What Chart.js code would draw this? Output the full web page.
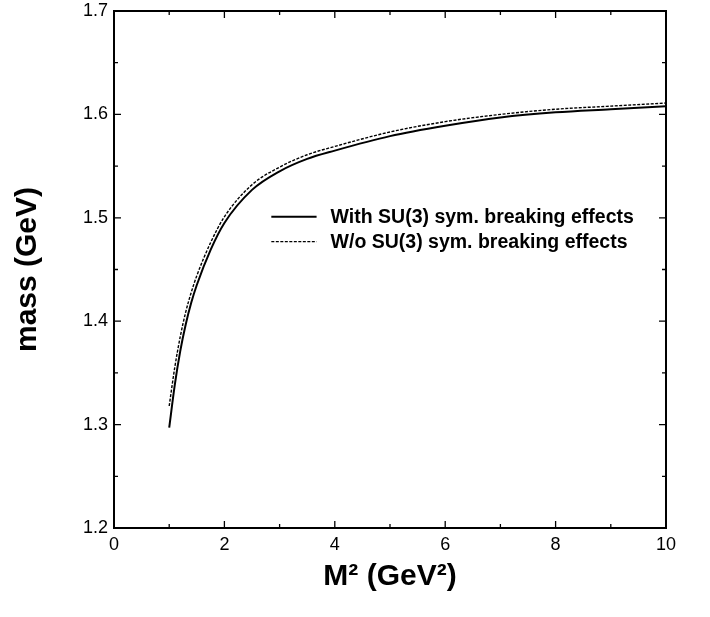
<!DOCTYPE html>
<html>
<head>
<meta charset="utf-8">
<script src="https://cdn.jsdelivr.net/npm/chart.js@4/dist/chart.umd.min.js"></script>
<style>
  html, body { margin: 0; padding: 0; background: #fff; }
  #wrap { width: 710px; height: 617px; position: relative; }
</style>
</head>
<body>
<div id="wrap"><canvas id="c" width="710" height="617"></canvas></div>
<script>
// Borel mass squared M^2 (GeV^2)
const borelM2 = [1, 1.1, 1.2, 1.3, 1.4, 1.5, 1.75, 2, 2.5, 3, 3.5, 4, 5, 6, 7, 8, 9, 10];
// mass (GeV) with SU(3) symmetry breaking effects (solid)
const massWith = [1.297, 1.338, 1.371, 1.397, 1.418, 1.435, 1.469, 1.495, 1.527, 1.545, 1.557, 1.565, 1.579, 1.589, 1.597, 1.602, 1.605, 1.608];
// mass (GeV) without SU(3) symmetry breaking effects (dashed)
const massWithout = [1.318, 1.355, 1.385, 1.409, 1.428, 1.444, 1.476, 1.501, 1.532, 1.549, 1.561, 1.569, 1.583, 1.593, 1.600, 1.605, 1.608, 1.611];
const seriesLabels = ['With SU(3) sym. breaking effects', 'W/o SU(3) sym. breaking effects'];
const xTicks = [0, 2, 4, 6, 8, 10];
const yTicks = [1.2, 1.3, 1.4, 1.5, 1.6, 1.7];

const toXY = (xs, ys) => xs.map((x, i) => ({x: x, y: ys[i]}));

const framePlugin = {
  id: 'frameTicks',
  afterDraw(chart) {
    const ctx = chart.ctx;
    const a = chart.chartArea;
    const xs = chart.scales.x, ys = chart.scales.y;
    ctx.save();
    ctx.strokeStyle = '#000';
    ctx.lineWidth = 1.3;
    ctx.beginPath();
    // x ticks: major every 2, minor every 1
    for (let v = xs.min; v <= xs.max + 1e-9; v += 1) {
      const px = xs.getPixelForValue(v);
      const len = (Math.round(v) % 2 === 0) ? 7 : 4;
      ctx.moveTo(px, a.bottom); ctx.lineTo(px, a.bottom - len);
      ctx.moveTo(px, a.top); ctx.lineTo(px, a.top + len);
    }
    // y ticks: major every 0.1, minor every 0.05
    for (let k = 0; k <= 10; k++) {
      const v = ys.min + k * 0.05;
      const py = ys.getPixelForValue(v);
      const len = (k % 2 === 0) ? 7 : 4;
      ctx.moveTo(a.left, py); ctx.lineTo(a.left + len, py);
      ctx.moveTo(a.right, py); ctx.lineTo(a.right - len, py);
    }
    ctx.stroke();
    ctx.lineWidth = 2;
    ctx.strokeRect(a.left, a.top, a.right - a.left, a.bottom - a.top);
    ctx.restore();
  }
};

const legendPlugin = {
  id: 'innerLegend',
  afterDatasetsDraw(chart) {
    const ctx = chart.ctx;
    const xs = chart.scales.x, ys = chart.scales.y;
    const x0 = xs.getPixelForValue(2.85);
    const x1 = xs.getPixelForValue(3.67);
    const rows = [ys.getPixelForValue(1.501), ys.getPixelForValue(1.477)];
    ctx.save();
    chart.data.datasets.forEach((ds, i) => {
      const y = rows[i];
      ctx.strokeStyle = ds.borderColor;
      ctx.lineWidth = ds.borderWidth;
      ctx.setLineDash(ds.borderDash || []);
      ctx.beginPath();
      ctx.moveTo(x0, y); ctx.lineTo(x1, y);
      ctx.stroke();
      ctx.setLineDash([]);
      ctx.fillStyle = '#000';
      ctx.font = 'bold 19.5px "Liberation Sans", Arial, sans-serif';
      ctx.textBaseline = 'middle';
      ctx.textAlign = 'left';
      ctx.fillText(ds.label, x1 + 14, y + 1);
    });
    ctx.restore();
  }
};

new Chart(document.getElementById('c'), {
  type: 'line',
  data: {
    datasets: [
      {
        label: seriesLabels[0],
        data: toXY(borelM2, massWith),
        borderColor: '#000',
        borderWidth: 2,
        pointRadius: 0,
        fill: false,
        cubicInterpolationMode: 'monotone'
      },
      {
        label: seriesLabels[1],
        data: toXY(borelM2, massWithout),
        borderColor: '#000',
        borderWidth: 1.4,
        borderDash: [3, 1.5],
        pointRadius: 0,
        fill: false,
        cubicInterpolationMode: 'monotone'
      }
    ]
  },
  options: {
    responsive: false,
    animation: false,
    layout: { padding: { top: 11, right: 44, left: 0, bottom: 0 } },
    plugins: { legend: { display: false }, tooltip: { enabled: false } },
    scales: {
      x: {
        type: 'linear',
        min: 0, max: 10,
        afterFit(s) { s.height = 89; s.paddingLeft = 0; s.paddingRight = 0; },
        afterBuildTicks(s) { s.ticks = xTicks.map(v => ({value: v})); },
        grid: { display: false, drawTicks: false, tickLength: 0 },
        border: { display: false },
        ticks: {
          color: '#000',
          padding: 6,
          maxRotation: 0,
          font: { family: '"Liberation Sans", Arial, sans-serif', size: 18 },
          callback: v => String(v)
        },
        title: {
          display: true,
          text: 'M² (GeV²)',
          color: '#000',
          padding: { top: 0, bottom: 22 },
          font: { family: '"Liberation Sans", Arial, sans-serif', size: 30, weight: 'bold' }
        }
      },
      y: {
        type: 'linear',
        min: 1.2, max: 1.7,
        afterFit(s) { s.width = 114; s.paddingTop = 0; s.paddingBottom = 0; },
        afterBuildTicks(s) { s.ticks = yTicks.map(v => ({value: v})); },
        grid: { display: false, drawTicks: false, tickLength: 0 },
        border: { display: false },
        ticks: {
          color: '#000',
          padding: 6,
          font: { family: '"Liberation Sans", Arial, sans-serif', size: 18 },
          callback: v => Number(v).toFixed(1)
        },
        title: {
          display: true,
          text: 'mass (GeV)',
          color: '#000',
          padding: { top: 10, bottom: 0 },
          font: { family: '"Liberation Sans", Arial, sans-serif', size: 30, weight: 'bold' }
        }
      }
    }
  },
  plugins: [framePlugin, legendPlugin]
});
</script>
</body>
</html>
